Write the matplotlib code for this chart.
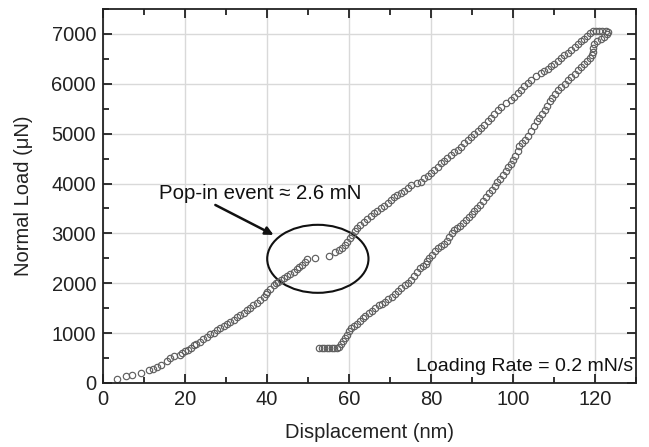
"""
Load-displacement curve from a nanoindentation test (pop-in event)
"""

import matplotlib
matplotlib.use("Agg")
import matplotlib.pyplot as plt
from matplotlib.patches import Ellipse

plt.rcParams["font.family"] = ["Liberation Sans", "DejaVu Sans"]

# Loading branch (nm, uN)
load_disp = [
    3.3, 5.6, 7.0, 9.2, 11.1, 12.3, 13.2, 14.2, 15.5, 16.4, 17.2, 18.8, 19.3,
    20.0, 20.7, 21.4, 22.1, 22.8, 23.7, 24.5, 25.3, 26.1, 27.0, 27.8, 28.6,
    29.4, 30.2, 31.0, 31.9, 32.7, 33.5, 34.3, 35.1, 35.9, 36.7, 37.5, 38.4,
    39.2, 39.7, 40.1, 40.8, 41.6, 42.2, 42.8, 43.5, 44.1, 44.8, 45.6, 46.5,
    47.2, 47.9, 48.6, 49.2, 49.8, 51.8, 55.0, 56.7, 57.6, 58.4, 59.1, 59.6,
    60.2, 60.8, 61.4, 62.0, 62.8, 63.6, 64.5, 65.3, 66.1, 66.9, 67.7, 68.5,
    69.4, 70.2, 71.0, 71.8, 72.6, 73.4, 74.3, 75.1, 76.5, 77.5, 78.3, 79.2,
    80.0, 80.8, 81.6, 82.4, 83.2, 84.0, 84.8, 85.6, 86.5, 87.3, 88.1, 88.9,
    89.7, 90.5, 91.4, 92.2, 93.0, 93.8, 94.6, 95.4, 96.3, 97.1, 98.3, 99.5,
    100.3, 101.1, 102.0, 102.8, 103.6, 104.4, 105.6, 106.8, 107.6, 108.5,
    109.3, 110.1, 110.9, 111.7, 112.5, 113.4, 114.2, 115.0, 115.8, 116.6,
    117.4, 118.0, 118.7, 119.4, 120.2, 121.0, 121.8, 122.6, 123.2,
]
load_force = [
    90, 140, 170, 210, 260, 290, 320, 360, 450, 510, 540, 570, 600,
    640, 670, 700, 760, 790, 830, 880, 930, 980, 1010, 1060, 1110,
    1150, 1190, 1230, 1270, 1320, 1360, 1410, 1460, 1510, 1560, 1610, 1660,
    1730, 1780, 1820, 1890, 1960, 2000, 2030, 2070, 2100, 2140, 2180, 2230,
    2280, 2320, 2370, 2420, 2480, 2510, 2550, 2620, 2660, 2700, 2770, 2830,
    2900, 2970, 3040, 3100, 3170, 3220, 3280, 3340, 3400, 3450, 3500, 3550,
    3610, 3670, 3720, 3760, 3810, 3860, 3920, 3970, 4020, 4040, 4110, 4160,
    4210, 4270, 4340, 4410, 4460, 4520, 4570, 4630, 4680, 4740, 4810, 4880,
    4940, 5000, 5060, 5110, 5180, 5250, 5310, 5390, 5470, 5540, 5610, 5680,
    5740, 5810, 5880, 5950, 6010, 6080, 6150, 6210, 6260, 6300,
    6350, 6400, 6460, 6510, 6570, 6620, 6680, 6730, 6790, 6850,
    6900, 6960, 7010, 7050, 7050, 7050, 7050, 7050, 7040,
]

# Unloading branch (nm, uN)
unload_disp = [
    123.0, 122.3, 121.5, 120.6, 119.8, 119.5, 119.6, 119.2, 118.7, 118.0,
    117.4, 116.6, 115.8, 115.0, 114.2, 113.4, 112.6, 111.8, 111.0, 110.3,
    109.6, 109.0, 108.3, 107.7, 107.0, 106.4, 105.8, 105.1, 104.4, 103.7,
    103.0, 102.2, 101.5, 101.2, 100.6, 100.0, 99.4, 98.8, 98.2, 97.5,
    96.8, 96.2, 95.5, 94.8, 94.1, 93.4, 92.7, 92.0, 91.3, 90.6,
    89.9, 89.2, 88.5, 87.8, 87.1, 86.4, 85.6, 85.0, 84.5, 84.0,
    83.2, 82.5, 81.7, 80.9, 80.2, 79.5, 79.0, 78.7, 78.0, 77.3,
    76.6, 75.9, 75.2, 74.4, 73.6, 72.8, 72.0, 71.2, 70.4, 69.6,
    68.8, 68.0, 67.2, 66.4, 65.6, 64.8, 64.0, 63.3, 62.6, 61.9,
    61.2, 60.6, 60.0, 59.6, 59.0, 58.5, 58.0, 57.5, 57.0, 56.4,
    55.8, 55.2, 54.6, 54.0, 53.4, 52.8,
]
unload_force = [
    7000, 6940, 6890, 6850, 6800, 6720, 6640, 6580, 6510, 6450,
    6400, 6330, 6270, 6200, 6130, 6070, 6000, 5940, 5880, 5800,
    5720, 5650, 5560, 5480, 5400, 5320, 5250, 5150, 5050, 4960,
    4880, 4820, 4760, 4650, 4550, 4480, 4400, 4330, 4250, 4180,
    4100, 4030, 3950, 3880, 3800, 3730, 3640, 3560, 3500, 3440,
    3380, 3320, 3260, 3200, 3150, 3100, 3060, 3000, 2920, 2850,
    2780, 2740, 2700, 2640, 2570, 2510, 2450, 2380, 2350, 2300,
    2230, 2150, 2070, 2010, 1960, 1910, 1840, 1780, 1730, 1680,
    1630, 1590, 1560, 1510, 1450, 1400, 1350, 1300, 1250, 1190,
    1140, 1110, 1050, 970, 900, 840, 790, 730, 710, 710,
    710, 710, 710, 710, 710, 710,
]

x_ticks = [0, 20, 40, 60, 80, 100, 120]
y_ticks = [0, 1000, 2000, 3000, 4000, 5000, 6000, 7000]

fig = plt.figure(figsize=(6.49, 4.47), dpi=100)
ax = fig.add_axes([0.1587, 0.1432, 0.8213, 0.8367])

marker_style = dict(linestyle="none", marker="o", markersize=4.6,
                    markerfacecolor="none", markeredgecolor="#5f5f5f",
                    markeredgewidth=0.85)
ax.plot(load_disp, load_force, **marker_style)
ax.plot(unload_disp, unload_force, **marker_style)

ax.set_xlim(0, 130)
ax.set_ylim(0, 7500)
ax.set_xticks(x_ticks)
ax.set_yticks(y_ticks)
ax.set_xticks([10, 30, 50, 70, 90, 110, 130], minor=True)
ax.set_yticks([500, 1500, 2500, 3500, 4500, 5500, 6500, 7500], minor=True)
ax.grid(True, which="major", color="#d9d9d9", linewidth=1.0)
ax.set_axisbelow(True)

ax.tick_params(which="both", direction="in", top=True, right=True,
               width=1.3, colors="#222222", labelsize=14.5)
ax.tick_params(which="major", length=6.5, pad=5)
ax.tick_params(which="minor", length=4)
for spine in ax.spines.values():
    spine.set_linewidth(1.3)
    spine.set_color("#222222")

ax.set_xlabel("Displacement (nm)", fontsize=14.5, color="#222222", labelpad=10)
ax.set_ylabel("Normal Load (\u03bcN)", fontsize=14.5, color="#222222", labelpad=13)

# Pop-in annotation
ax.add_patch(Ellipse((52.4, 2490), 24.7, 1364, fill=False,
                     edgecolor="#111111", linewidth=1.5))
ax.annotate("", xy=(41.6, 2970), xytext=(27.4, 3570),
            arrowprops=dict(arrowstyle="-|>", color="#111111", lw=1.8,
                            mutation_scale=12, shrinkA=0, shrinkB=0))
ax.text(13.7, 3790, "Pop-in event \u2248 2.6 mN", fontsize=14.7,
        color="#111111", va="center", ha="left")

ax.text(0.994, 0.045, "Loading Rate = 0.2 mN/s", transform=ax.transAxes,
        fontsize=14, color="#111111", ha="right", va="center")

fig.savefig("out.png", dpi=100)
